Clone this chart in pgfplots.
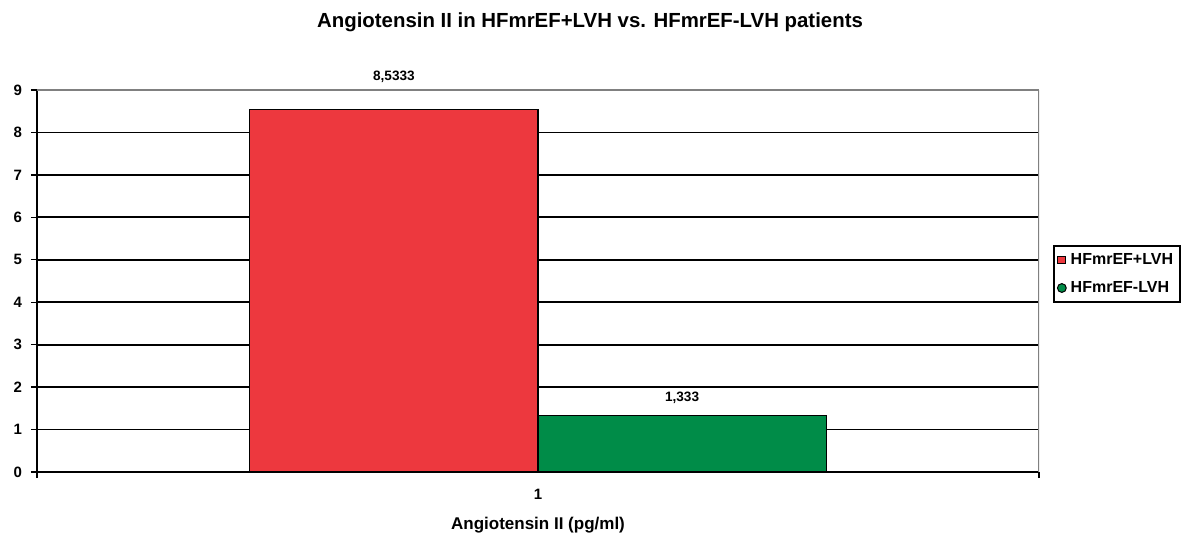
\documentclass[border=0pt]{standalone}
\usepackage{pgfplots}
\pgfplotsset{compat=1.18}
\usepackage{fontspec}
\setmainfont{Liberation Sans}
\definecolor{barred}{RGB}{237,56,62}
\definecolor{bargreen}{RGB}{0,140,72}
\begin{document}
\begin{tikzpicture}[font=\bfseries]
\path[use as bounding box] (-18.5pt,-32pt) rectangle (573pt,236pt);
\begin{axis}[
  at={(0pt,0pt)}, anchor=origin,
  width=501pt, height=191pt,
  scale only axis,
  /pgf/number format/assume math mode=true,
  axis x line*=bottom, axis y line*=left,
  axis line style={black, line width=0.9pt},
  xmin=0.5, xmax=1.5,
  ymin=0, ymax=9,
  ytick={0,...,8},
  extra y ticks={9},
  extra y tick style={grid style={gray, line width=0.9pt}},
  ymajorgrids,
  grid style={black, line width=0.9pt},
  tick align=outside,
  major tick length=3pt,
  tick style={black, line width=0.7pt},
  yticklabel style={font=\bfseries\fontsize{7.5}{8}\selectfont, xshift=-1pt},
  xtick={0.5,1.5},
  xticklabels={,},
  extra x ticks={1},
  extra x tick labels={1},
  extra x tick style={major tick length=0pt, xticklabel style={yshift=-5pt}},
  xticklabel style={font=\bfseries\fontsize{7.5}{8}\selectfont},
  xlabel={Angiotensin II (pg/ml)},
  every axis x label/.style={at={(rel axis cs:0.5,0)}, anchor=center, yshift=-26.5pt, font=\bfseries\fontsize{8.5}{9}\selectfont},
  ybar=0pt,
  bar width=0.2876,
  legend style={at={(1.014,0.594)}, anchor=north west, draw=black, line width=0.9pt,
    font=\bfseries\fontsize{8}{9}\selectfont, inner sep=1.5pt, row sep=3pt,
    legend cell align=left},
  nodes near coords style={font=\bfseries\fontsize{6.8}{7}\selectfont, black},
]
\addplot[fill=barred, draw=black, line width=0.6pt,
  nodes near coords={8,5333},
  every node near coord/.append style={yshift=10pt},
  legend image code/.code={\draw[fill=barred, draw=black, line width=0.5pt] (0pt,-1.8pt) rectangle (3.8pt,1.8pt);}]
  coordinates {(1,8.5333)};
\addlegendentry{HFmrEF+LVH}
\addplot[fill=bargreen, draw=black, line width=0.6pt,
  nodes near coords={1,333},
  every node near coord/.append style={yshift=2.5pt},
  legend image code/.code={\draw[fill=bargreen, draw=black, line width=0.5pt] (2pt,0pt) circle (2.2pt);}]
  coordinates {(1,1.333)};
\addlegendentry{HFmrEF-LVH}
\draw[gray, line width=0.9pt] (rel axis cs:1,0) -- (rel axis cs:1,1);
\end{axis}
\node[font=\bfseries\fontsize{10.2}{11}\selectfont] at (276.5pt,225pt) {Angiotensin II in HFmrEF+LVH vs. HFmrEF-LVH patients};
\end{tikzpicture}
\end{document}
